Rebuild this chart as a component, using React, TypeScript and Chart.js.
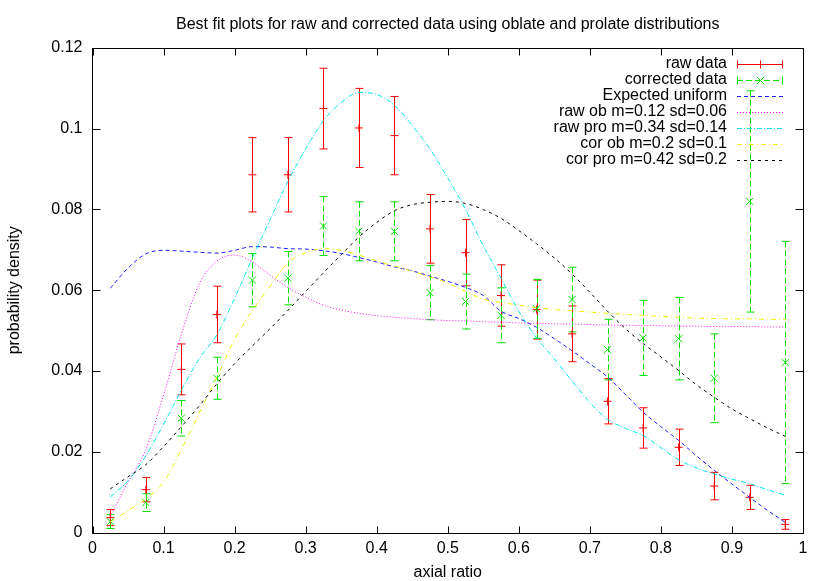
import React, { useEffect, useRef } from "react";
import { Chart, registerables } from "chart.js";

Chart.register(...registerables);

const FONT = "'Liberation Sans', Arial, Helvetica, sans-serif";

const chartTitle = "Best fit plots for raw and corrected data using oblate and prolate distributions";
const xAxisTitle = "axial ratio";
const yAxisTitle = "probability density";

// histogram bin centres
const binCentres = [0.025, 0.075, 0.125, 0.175, 0.225, 0.275, 0.325, 0.375, 0.425, 0.475, 0.525, 0.575, 0.625, 0.675, 0.725, 0.775, 0.825, 0.875, 0.925, 0.975];
const rawValues = [0.0037, 0.0106, 0.0404, 0.054, 0.0886, 0.0886, 0.105, 0.1002, 0.0983, 0.0752, 0.0693, 0.0587, 0.0552, 0.0492, 0.0325, 0.0259, 0.0211, 0.0115, 0.0087, 0.002];
const rawErrors = [0.002, 0.003, 0.0063, 0.007, 0.0092, 0.0092, 0.01, 0.0098, 0.0097, 0.0085, 0.0082, 0.0076, 0.0073, 0.0069, 0.0056, 0.005, 0.0045, 0.0034, 0.003, 0.0012];
const corValues = [0.0027, 0.0074, 0.0283, 0.0382, 0.0625, 0.063, 0.0759, 0.0746, 0.0746, 0.0594, 0.0572, 0.0538, 0.0554, 0.0577, 0.0453, 0.0482, 0.048, 0.0382, 0.082, 0.0421];
const corErrors = [0.0017, 0.0022, 0.0044, 0.0052, 0.0066, 0.0066, 0.0073, 0.0073, 0.0073, 0.0067, 0.0068, 0.0068, 0.0073, 0.008, 0.0075, 0.0093, 0.0102, 0.011, 0.0274, 0.03];

// fitted curves, sampled at these x values
const curveX = [0.025, 0.05, 0.075, 0.1, 0.125, 0.15, 0.175, 0.2, 0.225, 0.25, 0.275, 0.3, 0.325, 0.35, 0.375, 0.4, 0.425, 0.45, 0.475, 0.5, 0.525, 0.55, 0.575, 0.6, 0.625, 0.65, 0.675, 0.7, 0.725, 0.75, 0.775, 0.8, 0.825, 0.85, 0.875, 0.9, 0.925, 0.95, 0.975];
const uniformCurve = [0.0605, 0.0655, 0.069, 0.0699, 0.0697, 0.0694, 0.0692, 0.0699, 0.0708, 0.0707, 0.0703, 0.0702, 0.0698, 0.0691, 0.0681, 0.067, 0.0658, 0.0648, 0.0635, 0.0622, 0.0607, 0.0587, 0.0548, 0.053, 0.0508, 0.048, 0.045, 0.0418, 0.0385, 0.0342, 0.0298, 0.0262, 0.0228, 0.019, 0.0154, 0.012, 0.0087, 0.0055, 0.0025];
const rawObCurve = [0.004, 0.0125, 0.0205, 0.034, 0.049, 0.0615, 0.0672, 0.0687, 0.067, 0.0637, 0.0607, 0.0583, 0.0563, 0.0551, 0.0543, 0.0537, 0.0533, 0.053, 0.0527, 0.0525, 0.0524, 0.0522, 0.0521, 0.0519, 0.0518, 0.0517, 0.0516, 0.0515, 0.0514, 0.0513, 0.0513, 0.0512, 0.0511, 0.0511, 0.051, 0.051, 0.051, 0.0509, 0.0509];
const rawProCurve = [0.0088, 0.0128, 0.019, 0.0268, 0.0352, 0.043, 0.049, 0.058, 0.068, 0.0775, 0.087, 0.095, 0.102, 0.1065, 0.109, 0.1085, 0.1058, 0.1008, 0.095, 0.0878, 0.08, 0.071, 0.063, 0.0548, 0.0482, 0.043, 0.0375, 0.0322, 0.028, 0.0258, 0.024, 0.021, 0.018, 0.016, 0.0145, 0.0132, 0.0121, 0.0106, 0.0092];
const corObCurve = [0.0026, 0.0054, 0.0083, 0.0125, 0.0205, 0.0295, 0.0385, 0.0478, 0.055, 0.061, 0.0668, 0.0693, 0.0703, 0.0699, 0.0687, 0.0673, 0.066, 0.0647, 0.0633, 0.0618, 0.0597, 0.0578, 0.057, 0.0563, 0.0557, 0.0552, 0.0549, 0.0546, 0.0543, 0.054, 0.0538, 0.0535, 0.0533, 0.0531, 0.053, 0.0529, 0.0529, 0.0528, 0.0528];
const corProCurve = [0.0108, 0.0138, 0.0168, 0.0213, 0.0262, 0.0313, 0.0368, 0.0418, 0.0462, 0.0505, 0.055, 0.0597, 0.0643, 0.0688, 0.0732, 0.0768, 0.0797, 0.0812, 0.0818, 0.082, 0.0815, 0.08, 0.0778, 0.0748, 0.0715, 0.068, 0.064, 0.0595, 0.0548, 0.0505, 0.0468, 0.0435, 0.0401, 0.0366, 0.0335, 0.0306, 0.0282, 0.0259, 0.0238];

const seriesLabels = ["raw data", "corrected data", "Expected uniform", "raw ob m=0.12 sd=0.06", "raw pro m=0.34 sd=0.14", "cor ob m=0.2 sd=0.1", "cor pro m=0.42 sd=0.2"];
const seriesColors = ["#ff0000", "#00e000", "#2020ff", "#ff00ff", "#00e8e8", "#f0f000", "#000000"];
const seriesDashes = [[], [6, 3], [4, 3], [1, 2], [5, 2, 1, 2], [5, 3, 1, 3], [3, 4]];

const fmt = (v: number) => String(Number(Number(v).toFixed(3)));

function pts(xs: number[], ys: number[]) {
  return xs.map((x, i) => ({ x, y: ys[i] }));
}

function drawCross(ctx: CanvasRenderingContext2D, x: number, y: number, r: number) {
  ctx.beginPath();
  ctx.moveTo(x - r, y); ctx.lineTo(x + r, y);
  ctx.moveTo(x, y - r); ctx.lineTo(x, y + r);
  ctx.stroke();
}
function drawX(ctx: CanvasRenderingContext2D, x: number, y: number, r: number) {
  ctx.beginPath();
  ctx.moveTo(x - r, y - r); ctx.lineTo(x + r, y + r);
  ctx.moveTo(x - r, y + r); ctx.lineTo(x + r, y - r);
  ctx.stroke();
}

const overlay = {
  id: "gnuplotOverlay",
  beforeDatasetsDraw(chart: any) {
    const ctx: CanvasRenderingContext2D = chart.ctx;
    const xs = chart.scales.x, ys = chart.scales.y;
    const cap = 4;
    const groups = [
      { vals: rawValues, errs: rawErrors, color: seriesColors[0], dash: [] as number[] },
      { vals: corValues, errs: corErrors, color: seriesColors[1], dash: seriesDashes[1] },
    ];
    ctx.save();
    ctx.lineWidth = 1;
    groups.forEach((g) => {
      ctx.strokeStyle = g.color;
      binCentres.forEach((bx, i) => {
        const px = Math.round(xs.getPixelForValue(bx)) + 0.5;
        const top = ys.getPixelForValue(g.vals[i] + g.errs[i]);
        const bot = ys.getPixelForValue(Math.max(0, g.vals[i] - g.errs[i]));
        ctx.setLineDash(g.dash);
        ctx.beginPath();
        ctx.moveTo(px, top); ctx.lineTo(px, bot);
        ctx.stroke();
        ctx.setLineDash([]);
        ctx.beginPath();
        ctx.moveTo(px - cap, top); ctx.lineTo(px + cap, top);
        ctx.moveTo(px - cap, bot); ctx.lineTo(px + cap, bot);
        ctx.stroke();
      });
    });
    ctx.restore();
  },
  afterDraw(chart: any) {
    const ctx: CanvasRenderingContext2D = chart.ctx;
    const a = chart.chartArea;
    const xs = chart.scales.x, ys = chart.scales.y;
    ctx.save();
    // border
    ctx.strokeStyle = "#000";
    ctx.lineWidth = 1;
    const L = Math.round(a.left) - 0.5, R = Math.round(a.right) + 0.5;
    const T = Math.round(a.top) + 0.5, B = Math.round(a.bottom) + 0.5;
    ctx.strokeRect(L, T, R - L, B - T);
    // inward ticks on all four sides
    const tl = 7;
    ctx.beginPath();
    xs.ticks.forEach((t: any) => {
      const p = Math.round(xs.getPixelForValue(t.value)) + 0.5;
      ctx.moveTo(p, B); ctx.lineTo(p, B - tl);
      ctx.moveTo(p, T); ctx.lineTo(p, T + tl);
    });
    ys.ticks.forEach((t: any) => {
      const p = Math.round(ys.getPixelForValue(t.value)) + 0.5;
      ctx.moveTo(L, p); ctx.lineTo(L + tl + 1, p);
      ctx.moveTo(R, p); ctx.lineTo(R - tl - 1, p);
    });
    ctx.stroke();

    // titles
    ctx.fillStyle = "#000";
    ctx.font = `16px ${FONT}`;
    ctx.textAlign = "center";
    ctx.textBaseline = "alphabetic";
    ctx.fillText(chartTitle, (a.left + a.right) / 2, 29);
    ctx.fillText(xAxisTitle, (a.left + a.right) / 2, 577);
    ctx.save();
    ctx.translate(19, (a.top + a.bottom) / 2);
    ctx.rotate(-Math.PI / 2);
    ctx.fillText(yAxisTitle, 0, 0);
    ctx.restore();

    // legend
    const textRight = 727, s0 = 737, s1 = 783, rowY0 = 64, rowH = 16;
    ctx.textAlign = "right";
    ctx.textBaseline = "middle";
    seriesLabels.forEach((label, i) => {
      const y = rowY0 + i * rowH;
      ctx.fillStyle = "#000";
      ctx.fillText(label, textRight, y);
      const py = Math.round(y) + 0.5;
      ctx.strokeStyle = seriesColors[i];
      ctx.lineWidth = 1;
      ctx.setLineDash(seriesDashes[i]);
      ctx.beginPath();
      ctx.moveTo(s0, py); ctx.lineTo(s1, py);
      ctx.stroke();
      ctx.setLineDash([]);
      if (i < 2) {
        ctx.beginPath();
        ctx.moveTo(s0 + 0.5, py - 4); ctx.lineTo(s0 + 0.5, py + 4);
        ctx.moveTo(s1 - 0.5, py - 4); ctx.lineTo(s1 - 0.5, py + 4);
        ctx.stroke();
        const mx = Math.round((s0 + s1) / 2) + 0.5;
        if (i === 0) drawCross(ctx, mx, py, 4);
        else drawX(ctx, mx, py, 3.5);
      }
    });
    ctx.restore();
  },
};

export default function App() {
  const ref = useRef<HTMLCanvasElement | null>(null);
  useEffect(() => {
    if (!ref.current) return;
    const curve = (i: number, ys: number[], order: number) => ({
      label: seriesLabels[i],
      data: pts(curveX, ys),
      borderColor: seriesColors[i],
      borderWidth: 1,
      borderDash: seriesDashes[i],
      pointRadius: 0,
      showLine: true,
      cubicInterpolationMode: "monotone" as const,
      order,
    });
    const chart = new Chart(ref.current, {
      type: "scatter",
      data: {
        datasets: [
          {
            label: seriesLabels[0],
            data: pts(binCentres, rawValues),
            borderColor: seriesColors[0],
            backgroundColor: seriesColors[0],
            pointStyle: "cross",
            pointRadius: 4,
            pointBorderWidth: 1,
            showLine: false,
            order: 7,
          },
          {
            label: seriesLabels[1],
            data: pts(binCentres, corValues),
            borderColor: seriesColors[1],
            backgroundColor: seriesColors[1],
            pointStyle: "crossRot",
            pointRadius: 5,
            pointBorderWidth: 1,
            showLine: false,
            order: 6,
          },
          curve(2, uniformCurve, 5),
          curve(3, rawObCurve, 4),
          curve(4, rawProCurve, 3),
          curve(5, corObCurve, 2),
          curve(6, corProCurve, 1),
        ] as any,
      },
      options: {
        animation: false,
        responsive: false,
        layout: { padding: { top: 48, right: 27, left: 0, bottom: 0 } },
        plugins: { legend: { display: false }, title: { display: false }, tooltip: { enabled: false } },
        scales: {
          x: {
            type: "linear",
            min: 0,
            max: 1,
            grid: { display: false, drawTicks: false },
            border: { display: false },
            ticks: { stepSize: 0.1, autoSkip: false, maxRotation: 0, padding: 6, color: "#000", font: { family: FONT, size: 16 }, callback: (v: any) => fmt(v) },
            afterFit: (s: any) => { s.height = 48.5; },
          },
          y: {
            type: "linear",
            min: 0,
            max: 0.12,
            grid: { display: false, drawTicks: false },
            border: { display: false },
            ticks: { stepSize: 0.02, padding: 10, color: "#000", font: { family: FONT, size: 16 }, callback: (v: any) => fmt(v) },
            afterFit: (s: any) => { s.width = 92.5; },
          },
        },
      } as any,
      plugins: [overlay],
    });
    return () => chart.destroy();
  }, []);
  return (
    <div style={{ position: "absolute", left: 0, top: 0, width: 830, height: 581, background: "#fff" }}>
      <canvas ref={ref} width={830} height={581} style={{ display: "block" }} />
    </div>
  );
}
